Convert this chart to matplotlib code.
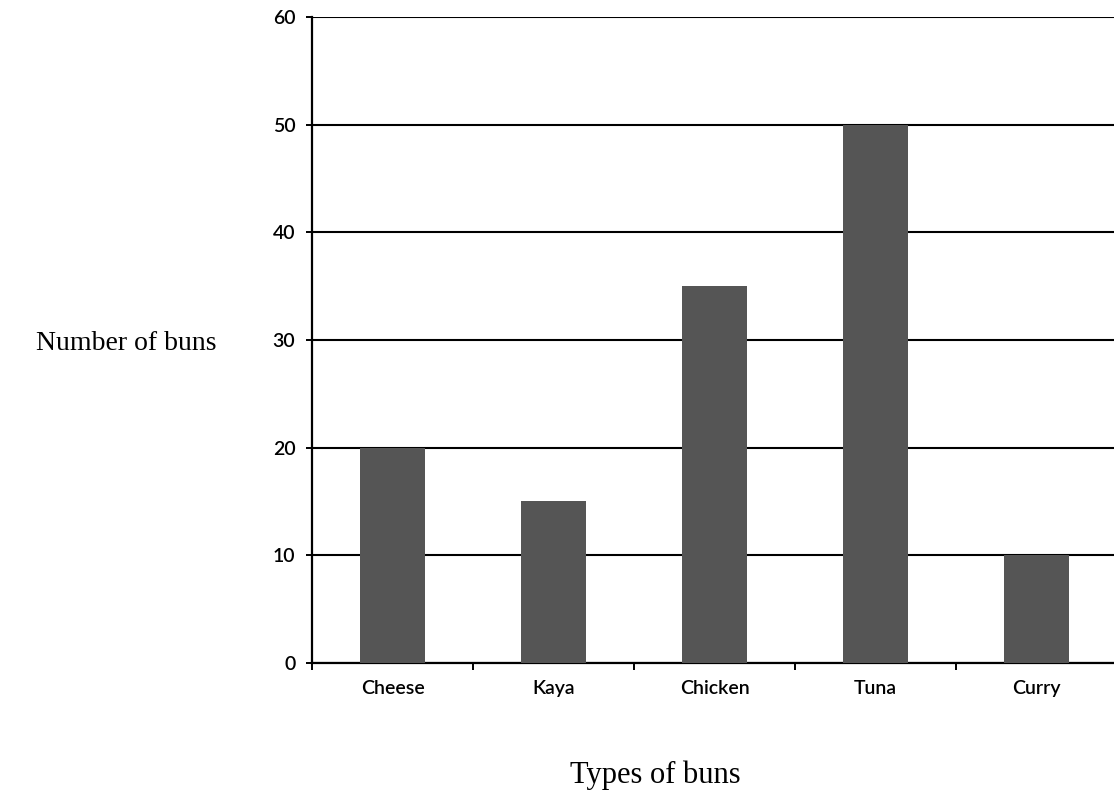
import matplotlib.pyplot as plt

buns = ['Cheese', 'Kaya', 'Chicken', 'Tuna', 'Curry']
counts = [20, 15, 35, 50, 10]
yticks = [0, 10, 20, 30, 40, 50, 60]

fig = plt.figure(figsize=(11.14, 7.96), dpi=100)
ax = fig.add_axes([0.2801, 0.1671, 0.7226, 0.8116])

x = range(len(buns))
ax.bar(x, counts, width=0.4, color='#555555', zorder=3)

ax.set_xlim(-0.5, len(buns) - 0.5)
ax.set_ylim(0, 60)
ax.set_yticks(yticks)
ax.set_xticks(list(x))
ax.set_xticklabels(buns, fontname='Lato', fontsize=14, fontweight='semibold')
ax.tick_params(axis='x', length=0, pad=12)
ax.set_xticks([i - 0.5 for i in range(len(buns) + 1)], minor=True)
ax.tick_params(axis='x', which='minor', length=5, width=1.4, direction='out')
ax.tick_params(axis='y', length=4, width=1.4, labelsize=14, pad=8)
for lab in ax.get_yticklabels():
    lab.set_fontname('Lato')
    lab.set_fontweight('semibold')

ax.grid(axis='y', color='black', linewidth=1.5, zorder=1)
ax.spines['top'].set_visible(False)
ax.spines['right'].set_visible(False)
ax.spines['left'].set_linewidth(1.6)
ax.spines['bottom'].set_linewidth(1.6)

fig.text(0.113, 0.569, 'Number of buns', fontname='Liberation Serif', fontsize=20,
         ha='center', va='center')
fig.text(0.588, 0.026, 'Types of buns', fontname='Liberation Serif', fontsize=22,
         ha='center', va='center')

fig.savefig('out.png', dpi=100)
